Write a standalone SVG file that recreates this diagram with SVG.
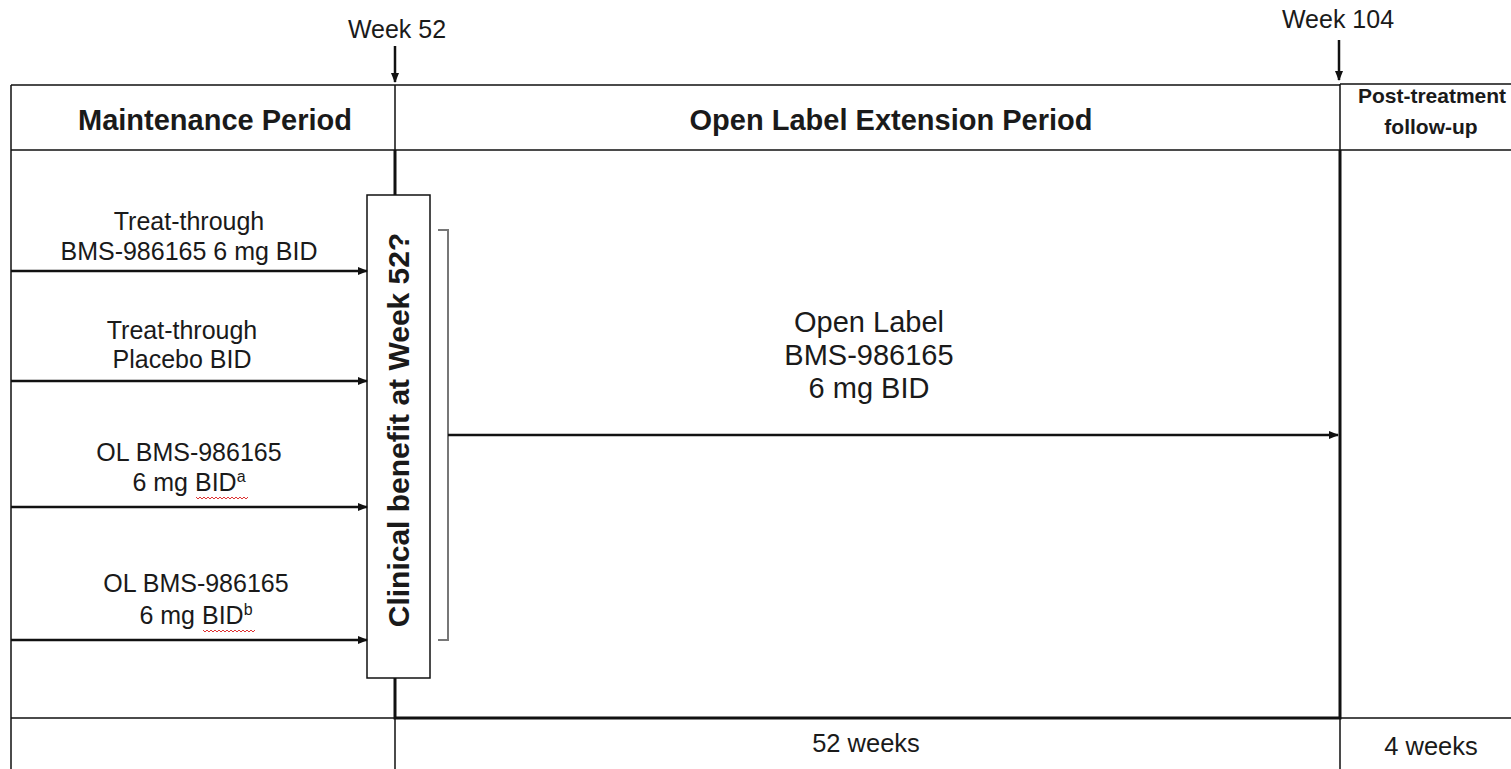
<svg xmlns="http://www.w3.org/2000/svg" width="1511" height="769" viewBox="0 0 1511 769">
<style>
.t{font-family:"Liberation Sans",Arial,sans-serif;fill:#1a1a1a;text-anchor:middle}
.r{font-size:25px}
.hb{font-size:29px;font-weight:bold}
.thin{stroke:#111;stroke-width:1.5;fill:none}
.thick{stroke:#111;stroke-width:3;fill:none}
.arr{stroke:#111;stroke-width:2.5;fill:none;marker-end:url(#ah)}
.sq{stroke:#d33;stroke-width:1;fill:none}
</style>
<defs>
<marker id="ah" markerWidth="10" markerHeight="8" refX="9" refY="4" orient="auto" markerUnits="userSpaceOnUse">
<path d="M0,0 L10,4 L0,8 z" fill="#111"/>
</marker>
</defs>
<g id="grid">
<path class="thin" d="M11,85 H1340 M1340,84 H1511 M11,150 H1511 M11,718 H1511 M11,85 V769 M395,85 V150 M395,718 V769 M1340,84 V150 M1340,718 V769"/>
<path class="thick" d="M395,150 V195 M395,678 V718 H1340 V150"/>
</g>
<g id="headers">
<text class="t" x="397" y="38" font-size="25">Week 52</text>
<text class="t" x="1338" y="28" font-size="25">Week 104</text>
<text class="t hb" x="215" y="130">Maintenance Period</text>
<text class="t hb" x="891" y="130">Open Label Extension Period</text>
<text class="t" x="1432" y="103" font-size="21" font-weight="bold">Post-treatment</text>
<text class="t" x="1431" y="134" font-size="21" font-weight="bold">follow-up</text>
<text class="t" x="866" y="752" font-size="25.5">52 weeks</text>
<text class="t" x="1431" y="755" font-size="25.5">4 weeks</text>
</g>
<g id="arm1">
<text class="t r" x="189" y="230">Treat-through</text>
<text class="t r" x="189" y="260">BMS-986165 6 mg BID</text>
</g>
<g id="arm2">
<text class="t r" x="182" y="339">Treat-through</text>
<text class="t r" x="182" y="368">Placebo BID</text>
</g>
<g id="arm3">
<text class="t r" x="189" y="461">OL BMS-986165</text>
<text class="t r" x="189" y="491">6 mg BID<tspan font-size="16" dy="-9">a</tspan></text>
<path class="sq" d="M196,497 l2,2 l2,-2 l2,2 l2,-2 l2,2 l2,-2 l2,2 l2,-2 l2,2 l2,-2 l2,2 l2,-2 l2,2 l2,-2 l2,2 l2,-2 l2,2 l2,-2 l2,2 l2,-2 l2,2 l2,-2 l2,2 l2,-2 l2,2 l2,-2"/>
</g>
<g id="arm4">
<text class="t r" x="196" y="592">OL BMS-986165</text>
<text class="t r" x="196" y="624">6 mg BID<tspan font-size="16" dy="-9">b</tspan></text>
<path class="sq" d="M203,630 l2,2 l2,-2 l2,2 l2,-2 l2,2 l2,-2 l2,2 l2,-2 l2,2 l2,-2 l2,2 l2,-2 l2,2 l2,-2 l2,2 l2,-2 l2,2 l2,-2 l2,2 l2,-2 l2,2 l2,-2 l2,2 l2,-2 l2,2 l2,-2"/>
</g>
<g id="decision">
<rect x="367" y="195" width="63" height="483" fill="#fff" stroke="#111" stroke-width="1.5"/>
<text class="t" transform="translate(409,430) rotate(-90)" font-size="30" font-weight="bold">Clinical benefit at Week 52?</text>
</g>
<g id="ole">
<text class="t" x="869" y="332" font-size="29">Open Label</text>
<text class="t" x="869" y="365" font-size="29">BMS-986165</text>
<text class="t" x="869" y="398" font-size="29">6 mg BID</text>
</g>
<g id="connectors">
<path class="arr" d="M395,46 V82"/>
<path class="arr" d="M1339,40 V80"/>
<path class="arr" d="M11,271 H367"/>
<path class="arr" d="M11,381 H367"/>
<path class="arr" d="M11,507 H367"/>
<path class="arr" d="M11,640 H367"/>
<path d="M438,230 H448 V640 H438" stroke="#777" stroke-width="2" fill="none"/>
<path class="arr" d="M448,435 H1338"/>
</g>
</svg>
